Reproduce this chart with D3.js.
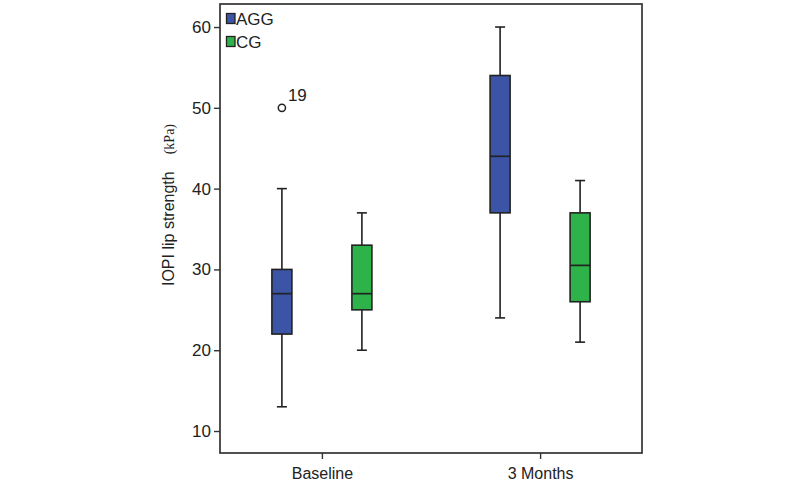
<!DOCTYPE html>
<html>
<head>
<meta charset="utf-8">
<script src="https://cdn.jsdelivr.net/npm/d3@7"></script>
<style>
  html, body { margin: 0; padding: 0; background: #fff; }
  svg { display: block; }
  text { font-family: "Liberation Sans", Arial, sans-serif; fill: #222; }
</style>
</head>
<body>
<svg id="chart" width="800" height="490"></svg>
<script>
const categories = ["Baseline", "3 Months"];
const groups = ["AGG", "CG"];
const groupColors = ["#3b54a5", "#2db34a"];
// per category, per group: [lowWhisker, q1, median, q3, highWhisker]
const aggStats = [[13, 22, 27, 30, 40], [24, 37, 44, 54, 60]];
const cgStats  = [[20, 25, 27, 33, 37], [21, 26, 30.5, 37, 41]];
const outliers = [{cat: "Baseline", group: "AGG", value: 50, label: "19"}];
const yTicks = [10, 20, 30, 40, 50, 60];

const svg = d3.select("#chart");
const mLeft = 220, mRight = 642, mTop = 4, mBottom = 453;

const y = d3.scaleLinear().domain([7.28, 62.85]).range([mBottom, mTop]);
const x = d3.scalePoint().domain(categories).range([mLeft, mRight]).padding(0.467);
const xg = d3.scaleBand().domain(groups).range([-80, 80]);
const color = d3.scaleOrdinal().domain(groups).range(groupColors);
const boxW = 20, capW = 10;

const statsByGroup = {AGG: aggStats, CG: cgStats};
const boxes = [];
categories.forEach((c, ci) => {
  groups.forEach(g => {
    const s = statsByGroup[g][ci];
    boxes.push({cat: c, group: g, lo: s[0], q1: s[1], med: s[2], q3: s[3], hi: s[4]});
  });
});

// axes
const yAxis = d3.axisLeft(y).tickValues(yTicks).tickSize(6).tickSizeOuter(0).tickPadding(3);
const ya = svg.append("g").attr("transform", `translate(${mLeft},0)`).call(yAxis);
ya.select(".domain").remove();
ya.selectAll("line").attr("stroke", "#333").attr("stroke-width", 1.4);
ya.selectAll("text").style("font-size", "17px").attr("fill", "#222");

const xAxis = d3.axisBottom(x).tickSize(6).tickSizeOuter(0).tickPadding(9);
const xa = svg.append("g").attr("transform", `translate(0,${mBottom})`).call(xAxis);
xa.select(".domain").remove();
xa.selectAll("line").attr("stroke", "#333").attr("stroke-width", 1.4);
xa.selectAll("text").style("font-size", "16px").attr("fill", "#222");

// frame
svg.append("rect").attr("x", mLeft).attr("y", mTop).attr("width", mRight - mLeft).attr("height", mBottom - mTop)
  .attr("fill", "none").attr("stroke", "#333").attr("stroke-width", 1.7);

// boxes
const bg = svg.append("g").selectAll("g").data(boxes).join("g")
  .attr("transform", d => `translate(${x(d.cat) + xg(d.group) + xg.bandwidth() / 2},0)`);
const st = "#222";
bg.append("line").attr("x1", 0).attr("x2", 0).attr("y1", d => y(d.hi)).attr("y2", d => y(d.q3)).attr("stroke", st).attr("stroke-width", 1.6);
bg.append("line").attr("x1", 0).attr("x2", 0).attr("y1", d => y(d.q1)).attr("y2", d => y(d.lo)).attr("stroke", st).attr("stroke-width", 1.6);
bg.append("line").attr("x1", -capW / 2).attr("x2", capW / 2).attr("y1", d => y(d.hi)).attr("y2", d => y(d.hi)).attr("stroke", st).attr("stroke-width", 1.6);
bg.append("line").attr("x1", -capW / 2).attr("x2", capW / 2).attr("y1", d => y(d.lo)).attr("y2", d => y(d.lo)).attr("stroke", st).attr("stroke-width", 1.6);
bg.append("rect").attr("x", -boxW / 2).attr("width", boxW)
  .attr("y", d => y(d.q3)).attr("height", d => y(d.q1) - y(d.q3))
  .attr("fill", d => color(d.group)).attr("stroke", st).attr("stroke-width", 1.6);
bg.append("line").attr("x1", -boxW / 2).attr("x2", boxW / 2).attr("y1", d => y(d.med)).attr("y2", d => y(d.med)).attr("stroke", st).attr("stroke-width", 1.7);

// outliers
const og = svg.append("g").selectAll("g").data(outliers).join("g")
  .attr("transform", d => `translate(${x(d.cat) + xg(d.group) + xg.bandwidth() / 2},${y(d.value)})`);
og.append("circle").attr("r", 3.6).attr("fill", "#fff").attr("stroke", st).attr("stroke-width", 1.5);
og.append("text").attr("x", 6).attr("y", -7).style("font-size", "17px").text(d => d.label);

// legend
const lg = svg.append("g").selectAll("g").data(groups).join("g")
  .attr("transform", (d, i) => `translate(226.5,${13.5 + i * 23})`);
lg.append("rect").attr("width", 8.5).attr("height", 10).attr("fill", d => color(d)).attr("stroke", st).attr("stroke-width", 1.3);
lg.append("text").attr("x", 9.5).attr("y", 11).style("font-size", "17px").text(d => d);

// y label
const yl = svg.append("text").attr("transform", "translate(174,205) rotate(-90)").attr("text-anchor", "middle");
yl.append("tspan").style("font-size", "16px").text("IOPI lip strength");
yl.append("tspan").attr("dx", 17).style("font-size", "14px").style("font-family", "'Liberation Serif', 'Times New Roman', serif").text("(kPa)");
</script>
</body>
</html>
